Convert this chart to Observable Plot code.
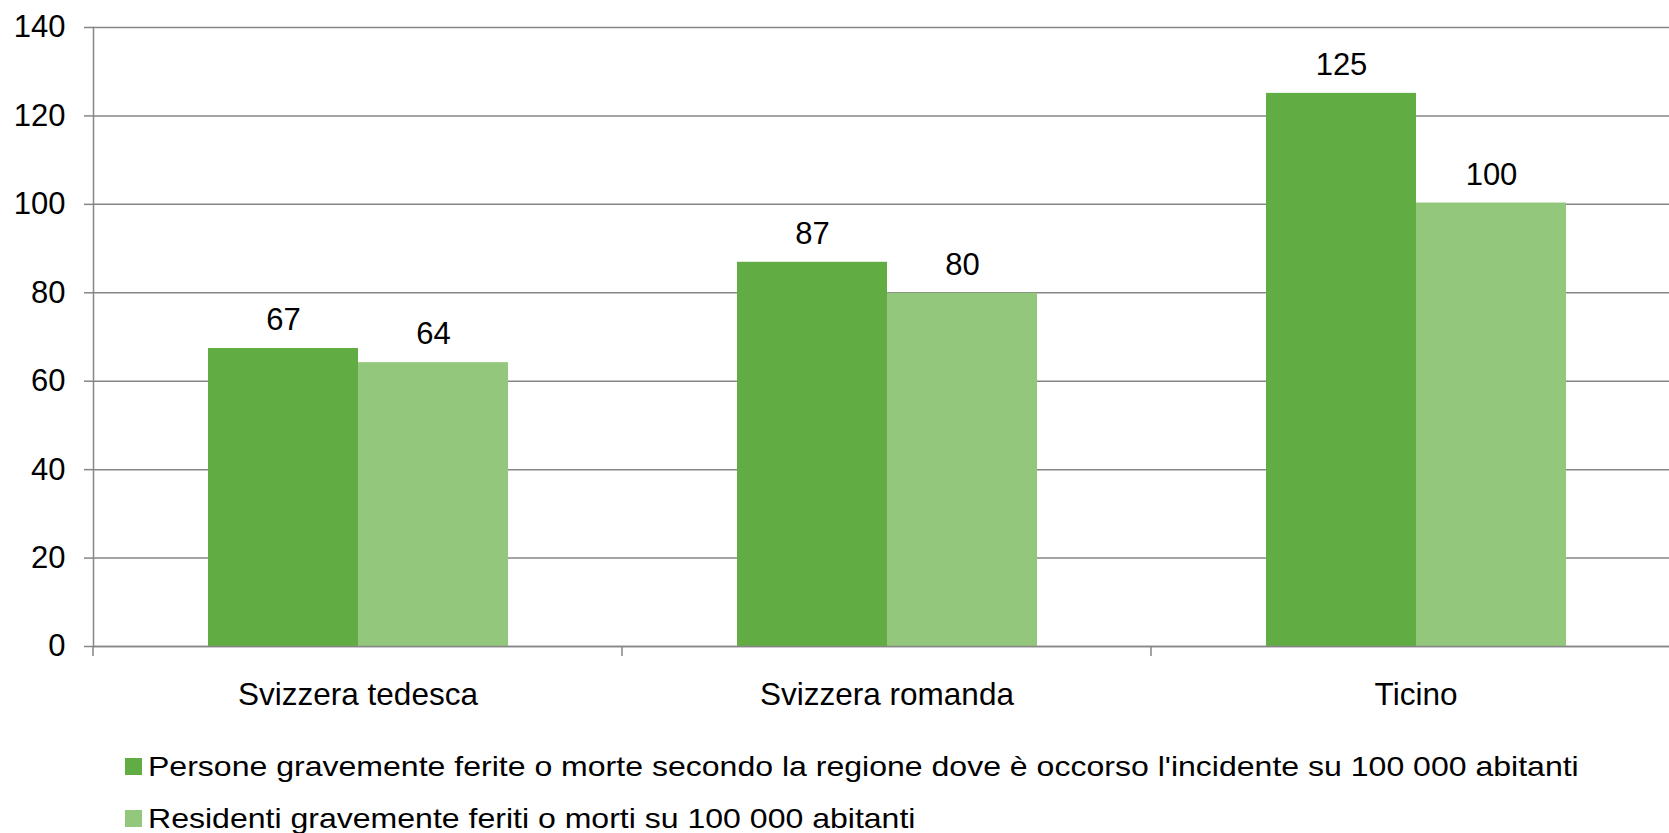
<!DOCTYPE html>
<html><head><meta charset="utf-8">
<script src="https://cdn.jsdelivr.net/npm/d3@7"></script>
<script src="https://cdn.jsdelivr.net/npm/@observablehq/plot@0.6"></script>
<style>
html,body{margin:0;padding:0;background:#fff;overflow:hidden;}
body{font-family:"Liberation Sans",Arial,sans-serif;color:#000;}
#chart svg{max-width:none !important;display:block;}
#legend{padding-left:125px;}
#legend .row{display:flex;align-items:center;height:52px;}
#legend .sw{width:17px;height:17px;margin-right:6px;flex:none;}
#legend .lab{font-size:28.5px;line-height:1;white-space:nowrap;display:inline-block;transform:scaleX(1.124);transform-origin:left center;}
</style></head><body>
<div id="chart"></div>
<div id="legend"></div>
<script>
const regions = ["Svizzera tedesca", "Svizzera romanda", "Ticino"];
const seriesNames = [
  "Persone gravemente ferite o morte secondo la regione dove è occorso l'incidente su 100 000 abitanti",
  "Residenti gravemente feriti o morti su 100 000 abitanti"
];
const persone = [67.4, 86.9, 125.1];
const residenti = [64.2, 79.9, 100.3];
const yTicks = [0, 20, 40, 60, 80, 100, 120, 140];
const colors = ["#62AD43", "#92C77C"];

const data = regions.flatMap((r, i) => [
  {region: r, series: seriesNames[0], value: persone[i]},
  {region: r, series: seriesNames[1], value: residenti[i]}
]);

const gray = "#868686";
const W = 1681, H = 740;

const boundaryTick = (index, scales, values, dimensions) => {
  const y0 = scales.y(0);
  return d3.create("svg:line")
    .attr("x1", dimensions.marginLeft).attr("x2", dimensions.marginLeft)
    .attr("y1", y0).attr("y2", y0 + 10)
    .attr("stroke", gray).attr("stroke-width", 1.5).node();
};

const chart = Plot.plot({
  width: W, height: H,
  marginLeft: 92, marginRight: 0, marginTop: 27, marginBottom: 94,
  style: {fontFamily: "'Liberation Sans', Arial, sans-serif", color: "#000", background: "#fff", maxWidth: "none"},
  fx: {domain: regions, paddingInner: 0, paddingOuter: 0, label: null},
  x: {domain: seriesNames, paddingInner: 0, paddingOuter: 0.755, axis: null},
  y: {domain: [0, 140], label: null},
  color: {domain: seriesNames, range: colors},
  marks: [
    Plot.gridY(yTicks, {stroke: gray, strokeOpacity: 1, strokeWidth: 1.5}),
    Plot.axisY(yTicks, {tickSize: 9, tickPadding: 19, fontSize: 31, stroke: gray, strokeWidth: 1.5, label: null}),
    Plot.axisFx({anchor: "bottom", tickSize: 0, tickPadding: 36, fontSize: 31.5, label: null}),
    Plot.barY(data, {fx: "region", x: "series", y: "value", fill: "series"}),
    Plot.ruleY([0], {stroke: gray, strokeWidth: 1.5}),
    Plot.frame({anchor: "left", facetAnchor: "left", stroke: gray, strokeWidth: 1.5}),
    boundaryTick,
    Plot.text(data, {fx: "region", x: "series", y: "value", text: d => String(Math.round(d.value)), lineAnchor: "bottom", dy: -18.5, fontSize: 31, fill: "#000"})
  ]
});
document.getElementById("chart").appendChild(chart);

const legend = d3.select("#legend");
seriesNames.forEach((s, i) => {
  const row = legend.append("div").attr("class", "row");
  row.append("span").attr("class", "sw").style("background", colors[i]);
  row.append("span").attr("class", "lab").text(s);
});
</script>
</body></html>
